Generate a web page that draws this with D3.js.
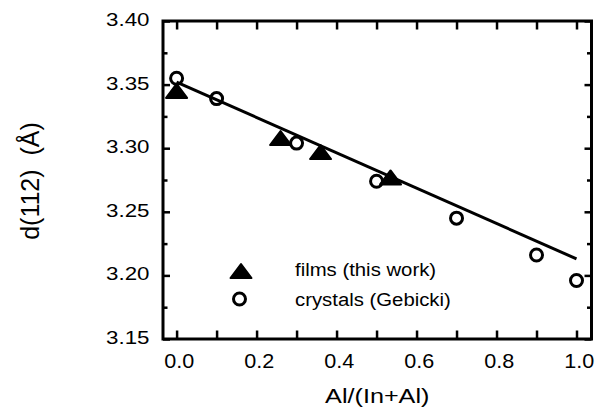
<!DOCTYPE html>
<html>
<head>
<meta charset="utf-8">
<script src="https://cdnjs.cloudflare.com/ajax/libs/d3/7.8.5/d3.min.js"></script>
<style>
body{margin:0;background:#fff;}
svg{display:block;font-family:"Liberation Sans",Arial,sans-serif;}
</style>
</head>
<body>
<svg id="chart" width="595" height="412"></svg>
<script>
// values
const filmsX = [0.0, 0.26, 0.36, 0.535];
const filmsY = [3.345, 3.308, 3.297, 3.277];
const crystalsX = [0.0, 0.1, 0.3, 0.5, 0.7, 0.9, 1.0];
const crystalsY = [3.355, 3.339, 3.304, 3.274, 3.245, 3.216, 3.196];
// linear fit drawn through the points
const fitX = [0.0, 1.0];
const fitY = [3.352, 3.213];
// ticks
const xTicks = [0, 0.2, 0.4, 0.6, 0.8, 1.0];
const xMinorTicks = [0.1, 0.3, 0.5, 0.7, 0.9];
const yTicks = [3.15, 3.20, 3.25, 3.30, 3.35, 3.40];
const yMinorTicks = [3.175, 3.225, 3.275, 3.325, 3.375];
const legendLabels = ['films (this work)', 'crystals (Gebicki)'];

// frame of the plot in pixels
const box = {left:163, right:591.5, top:21, bottom:339};

const x = d3.scaleLinear().domain([-0.034, 1.0375]).range([box.left, box.right]);
const y = d3.scaleLinear().domain([3.15, 3.40]).range([box.bottom, box.top]);

const svg = d3.select('#chart');

// a filled triangle centred on 0,0
function triPath(w,h){
	return 'M0,'+(-h/2)+'L'+(w/2)+','+(h/2)+'L'+(-w/2)+','+(h/2)+'Z';
}

// axes - all ticks point inward, the frame is drawn on top
function axisGroup(axis, tx, ty){
	let g = svg.append('g').attr('transform','translate('+tx+','+ty+')').call(axis);
	g.select('.domain').remove();
	g.selectAll('.tick line').attr('stroke','#000').attr('stroke-width',2.5);
	return g;
}

let xb = axisGroup(d3.axisBottom(x).tickValues(xTicks).tickSize(-8.5).tickFormat(d3.format('.1f')), 0, box.bottom);
xb.selectAll('text').attr('y',29).attr('dy',null).attr('x',2)
	.attr('fill','#000').attr('font-size',20).attr('transform','scale(1.08,1)');
axisGroup(d3.axisBottom(x).tickValues(xMinorTicks).tickSize(-8.5).tickFormat(''), 0, box.bottom);
axisGroup(d3.axisTop(x).tickValues(xTicks.concat(xMinorTicks)).tickSize(-8.5).tickFormat(''), 0, box.top);

let yl = axisGroup(d3.axisLeft(y).tickValues(yTicks).tickSize(-7).tickFormat(d3.format('.2f')), box.left, 0);
yl.selectAll('text').attr('x',-13.5/1.2).attr('y',4.5).attr('dy',null)
	.attr('fill','#000').attr('font-size',18.6).attr('transform','scale(1.2,1)');
axisGroup(d3.axisLeft(y).tickValues(yMinorTicks).tickSize(-4.5).tickFormat(''), box.left, 0);
axisGroup(d3.axisRight(y).tickValues(yTicks).tickSize(-7).tickFormat(''), box.right, 0);
axisGroup(d3.axisRight(y).tickValues(yMinorTicks).tickSize(-4.5).tickFormat(''), box.right, 0);

// frame
svg.append('rect')
	.attr('x',box.left).attr('y',box.top)
	.attr('width',box.right-box.left).attr('height',box.bottom-box.top)
	.attr('fill','none').attr('stroke','#000').attr('stroke-width',3);

// axis titles
svg.append('g').attr('transform','translate('+((box.left+box.right)/2)+',403) scale(1.2,1)')
	.append('text').attr('text-anchor','middle').attr('font-size',21).attr('fill','#000')
	.text('Al/(In+Al)');
svg.append('g').attr('transform','translate(39,181) rotate(-90)')
	.append('text').attr('text-anchor','middle').attr('font-size',25).attr('fill','#000')
	.style('white-space','pre')
	.text('d(112)  (Å)');

// fit line
let fit = fitX.map((v,i)=>[v,fitY[i]]);
svg.append('path').datum(fit)
	.attr('d', d3.line().x(d=>x(d[0])).y(d=>y(d[1])))
	.attr('fill','none').attr('stroke','#000').attr('stroke-width',3);

// films - filled triangles
svg.append('g').selectAll('path').data(filmsX.map((v,i)=>[v,filmsY[i]])).join('path')
	.attr('d', triPath(21,14))
	.attr('transform', d=>'translate('+x(d[0])+','+y(d[1])+')')
	.attr('fill','#000').attr('stroke','#000').attr('stroke-width',2).attr('stroke-linejoin','round');

// crystals - open circles
svg.append('g').selectAll('circle').data(crystalsX.map((v,i)=>[v,crystalsY[i]])).join('circle')
	.attr('cx', d=>x(d[0])).attr('cy', d=>y(d[1])).attr('r',6)
	.attr('fill','none').attr('stroke','#000').attr('stroke-width',3);

// legend
let leg = svg.append('g');
leg.append('path').attr('d',triPath(21,14)).attr('transform','translate(241,271)')
	.attr('fill','#000').attr('stroke','#000').attr('stroke-width',2).attr('stroke-linejoin','round');
leg.append('circle').attr('cx',239.5).attr('cy',299).attr('r',6)
	.attr('fill','none').attr('stroke','#000').attr('stroke-width',3);
leg.selectAll('g.lab').data(legendLabels).join('g').attr('class','lab')
	.attr('transform',(d,i)=>'translate(295,'+(276+i*30)+') scale(1.13,1)')
	.append('text').attr('font-size',18).attr('fill','#000').text(d=>d);
</script>
</body>
</html>
